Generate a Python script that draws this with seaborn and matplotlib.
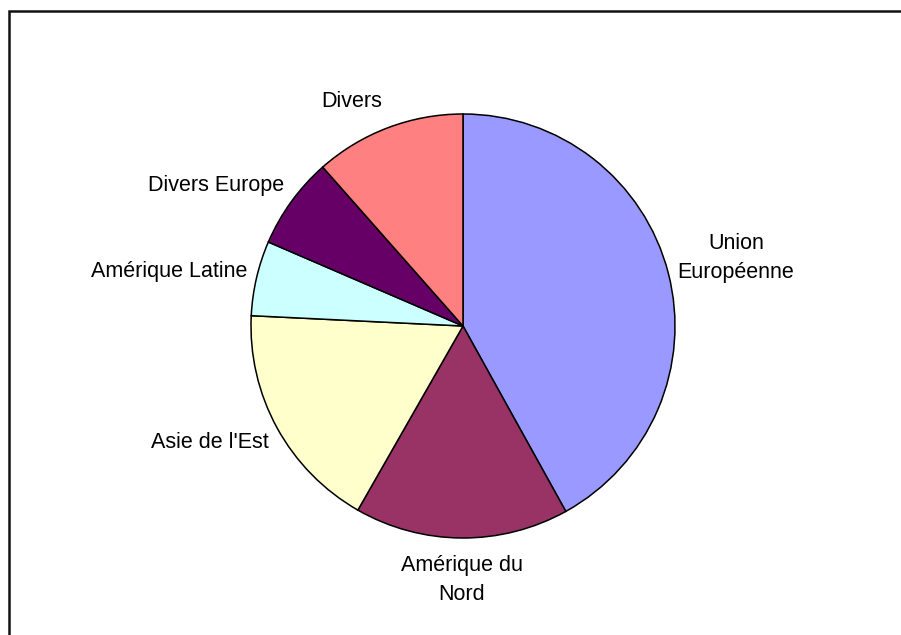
import numpy as np
import matplotlib
matplotlib.use("Agg")
import matplotlib.pyplot as plt
from matplotlib.patches import Rectangle
import seaborn as sns

# Regional shares (%)
regions = ["Union\nEuropéenne", "Amérique du\nNord", "Asie de l'Est",
           "Amérique Latine", "Divers Europe", "Divers"]
shares = [41.9, 16.3, 17.5, 5.7, 7.0, 11.5]
colors = ["#9999FF", "#993366", "#FFFFCC", "#CCFFFF", "#660066", "#FF8080"]

sns.set_theme(style="white")
plt.rcParams["font.family"] = ["Liberation Sans", "DejaVu Sans"]

W, H, DPI = 901, 635, 100
fig = plt.figure(figsize=(W / DPI, H / DPI), dpi=DPI)
ax = fig.add_axes([0, 0, 1, 1])

# pie centre and radius in pixels
cx, cy, rad = 463, 326, 212

wedges, _ = ax.pie(shares, colors=colors, startangle=90, counterclock=False,
                   radius=1.0,
                   wedgeprops=dict(edgecolor="black", linewidth=1.1))

ax.set_xlim(-cx / rad, (W - cx) / rad)
ax.set_ylim(-(H - cy) / rad, cy / rad)
ax.set_aspect("auto")
ax.axis("off")

# labels just outside each wedge; the text box slides vertically
# with the sine of the mid-angle so it never overlaps the pie
texts = []
for w, lab in zip(wedges, regions):
    mid = np.deg2rad((w.theta1 + w.theta2) / 2)
    c, s = np.cos(mid), np.sin(mid)
    ha = "left" if c > 0.3 else ("right" if c < -0.3 else "center")
    d = 1.08 if abs(s) > 0.8 else 1.045
    t = ax.text(d * c, d * s, lab, ha=ha, va="center",
                multialignment="center", fontsize=15.5, color="black",
                linespacing=1.5)
    texts.append((t, float(np.clip(s, -0.5, 0.5))))

fig.canvas.draw()
renderer = fig.canvas.get_renderer()
for t, frac in texts:
    h = t.get_window_extent(renderer).height
    x, y = t.get_position()
    t.set_position((x, y + frac * h / rad))

# chart-area border (left and top edges visible)
fig.patches.append(Rectangle((9 / W, -0.1), 2, (H - 11) / H + 0.1,
                             transform=fig.transFigure, fill=False,
                             edgecolor="#111111", linewidth=1.8,
                             clip_on=False))

fig.savefig("out.png", dpi=DPI)
